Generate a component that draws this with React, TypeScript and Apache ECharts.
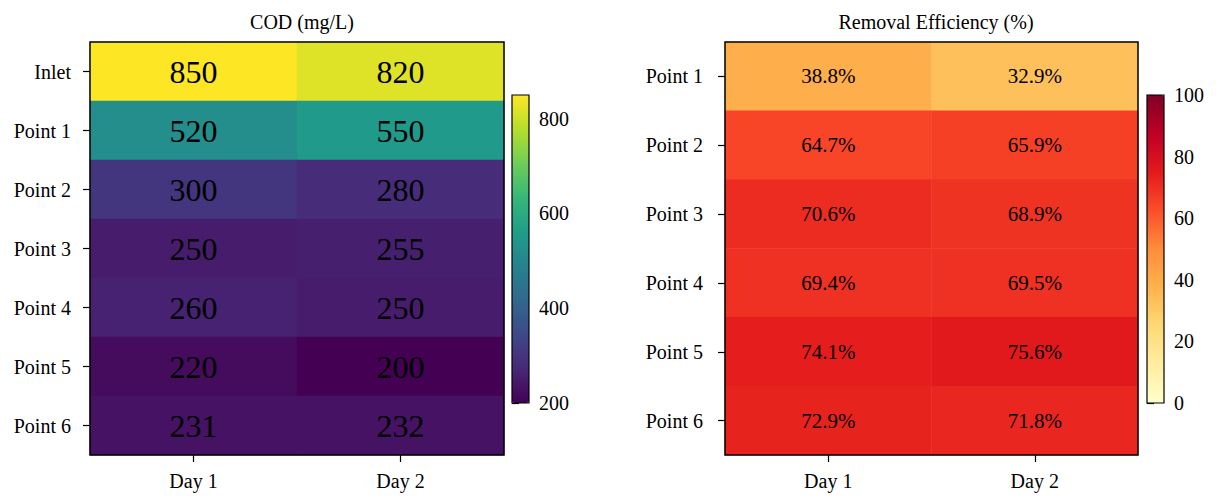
import React, { useEffect, useRef } from "react";
import * as echarts from "echarts";

const days = ["Day 1", "Day 2"];
const codSites = ["Inlet", "Point 1", "Point 2", "Point 3", "Point 4", "Point 5", "Point 6"];
const codDay1 = [850, 520, 300, 250, 260, 220, 231];
const codDay2 = [820, 550, 280, 255, 250, 200, 232];
const remSites = ["Point 1", "Point 2", "Point 3", "Point 4", "Point 5", "Point 6"];
const remDay1 = [38.8, 64.7, 70.6, 69.4, 74.1, 72.9];
const remDay2 = [32.9, 65.9, 68.9, 69.5, 75.6, 71.8];
const codTicks = [200, 400, 600, 800];
const remTicks = [0, 20, 40, 60, 80, 100];

const viridis = ["#440154", "#482878", "#3e4989", "#31688e", "#26828e", "#1f9e89", "#35b779", "#6ece58", "#b5de2b", "#fde725"];
const ylOrRd = ["#ffffcc", "#ffeda0", "#fed976", "#feb24c", "#fd8d3c", "#fc4e2a", "#e31a1c", "#bd0026", "#800026"];

const FONT = "Liberation Serif";

export default function App() {
  const ref = useRef<HTMLDivElement>(null);
  useEffect(() => {
    if (!ref.current) return;
    const chart = echarts.init(ref.current, null, { renderer: "svg" });
    const codData: number[][] = [];
    codSites.forEach((_, i) => {
      codData.push([0, i, codDay1[i]]);
      codData.push([1, i, codDay2[i]]);
    });
    const remData: number[][] = [];
    remSites.forEach((_, i) => {
      remData.push([0, i, remDay1[i]]);
      remData.push([1, i, remDay2[i]]);
    });
    const txt = { color: "#000", fontFamily: FONT, fontSize: 20 };
    const tickStyle = { color: "#000", width: 1.2 };
    const catX = (gi: number) => ({
      type: "category",
      gridIndex: gi,
      data: days,
      axisLine: { show: false },
      axisTick: { show: true, alignWithLabel: true, length: 7, lineStyle: tickStyle },
      axisLabel: { ...txt, margin: 16 },
      splitLine: { show: false },
    });
    const catY = (gi: number, data: string[], margin: number) => ({
      type: "category",
      gridIndex: gi,
      data,
      inverse: true,
      axisLine: { show: false },
      axisTick: { show: true, alignWithLabel: true, length: 7, lineStyle: tickStyle },
      axisLabel: { ...txt, margin },
      splitLine: { show: false },
    });
    const cbY = (gi: number, min: number, max: number, ticks: number[]) => ({
      type: "value",
      gridIndex: gi,
      position: "right",
      min,
      max,
      interval: ticks[1] - ticks[0],
      axisLine: { show: false },
      axisTick: { show: true, length: 7, customValues: ticks, lineStyle: tickStyle },
      axisLabel: {
        color: "#000",
        fontFamily: FONT,
        fontSize: 20,
        margin: 10,
        showMaxLabel: ticks.indexOf(max) >= 0,
        formatter: (v: number) => (ticks.indexOf(v) >= 0 ? String(v) : ""),
      },
      splitLine: { show: false },
    });
    chart.setOption({
      animation: false,
      backgroundColor: "#fff",
      textStyle: { fontFamily: FONT, color: "#000" },
      title: [
        { text: "COD (mg/L)", left: 297, top: 7, textAlign: "center", textStyle: { ...txt, fontWeight: "normal" } },
        { text: "Removal Efficiency (%)", left: 931, top: 7, textAlign: "center", textStyle: { ...txt, fontWeight: "normal" } },
      ],
      grid: [
        { left: 90, top: 42, width: 414, height: 413, show: true, borderColor: "#000", borderWidth: 1.5, backgroundColor: "transparent", z: 10 },
        { left: 725, top: 42, width: 413, height: 413, show: true, borderColor: "#000", borderWidth: 1.5, backgroundColor: "transparent", z: 10 },
        { left: 512, top: 95, width: 17, height: 308, show: true, borderColor: "#000", borderWidth: 1.2, backgroundColor: "transparent", z: 10 },
        { left: 1147, top: 95, width: 17, height: 308, show: true, borderColor: "#000", borderWidth: 1.2, backgroundColor: "transparent", z: 10 },
      ],
      xAxis: [
        catX(0),
        catX(1),
        { type: "value", gridIndex: 2, show: false, min: 0, max: 1 },
        { type: "value", gridIndex: 3, show: false, min: 0, max: 1 },
      ],
      yAxis: [
        catY(0, codSites, 19),
        catY(1, remSites, 22),
        cbY(2, 200, 850, codTicks),
        cbY(3, 0, 100, remTicks),
      ],
      visualMap: [
        {
          type: "continuous",
          seriesIndex: 0,
          min: 200,
          max: 850,
          calculable: false,
          hoverLink: false,
          orient: "vertical",
          left: 512,
          top: 95,
          padding: 0,
          itemWidth: 17,
          itemHeight: 308,
          inRange: { color: viridis },
          text: null,
          showLabel: false,
        },
        {
          type: "continuous",
          seriesIndex: 1,
          min: 0,
          max: 100,
          calculable: false,
          hoverLink: false,
          orient: "vertical",
          left: 1147,
          top: 95,
          padding: 0,
          itemWidth: 17,
          itemHeight: 308,
          inRange: { color: ylOrRd },
          text: null,
          showLabel: false,
        },
      ],
      series: [
        {
          type: "heatmap",
          xAxisIndex: 0,
          yAxisIndex: 0,
          data: codData,
          label: { show: true, color: "#000", fontFamily: FONT, fontSize: 32, formatter: (p: any) => String(p.value[2]) },
          itemStyle: { borderWidth: 0 },
          emphasis: { disabled: true },
        },
        {
          type: "heatmap",
          xAxisIndex: 1,
          yAxisIndex: 1,
          data: remData,
          label: { show: true, color: "#000", fontFamily: FONT, fontSize: 21, formatter: (p: any) => p.value[2].toFixed(1) + "%" },
          itemStyle: { borderWidth: 0 },
          emphasis: { disabled: true },
        },
      ],
    });
    return () => chart.dispose();
  }, []);
  return <div ref={ref} style={{ width: 1225, height: 498, position: "absolute", left: 0, top: 0 }} />;
}
